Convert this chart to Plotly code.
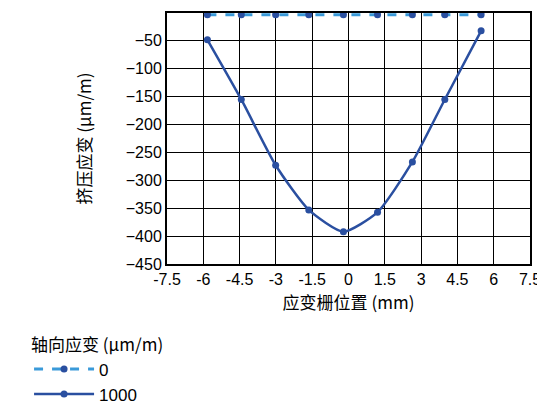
import plotly.graph_objects as go

# strain gauge position (mm) and compressive strain (µm/m)
pos_0 = [-5.83, -4.43, -3.01, -1.64, -0.21, 1.20, 2.64, 3.98, 5.48]
strain_0 = [-3, -3, -3, -3, -3, -3, -3, -3, -3]
pos_1000 = [-5.83, -4.43, -3.01, -1.64, -0.21, 1.20, 2.64, 3.98, 5.48]
strain_1000 = [-48, -155, -273, -353, -392, -357, -267, -155, -32]

DARK = '#2a4fa0'
LIGHT = '#3a9ad9'

fig = go.Figure()
fig.add_trace(go.Scatter(
    x=pos_0, y=strain_0, mode='lines+markers', name='0',
    line=dict(color=LIGHT, width=3, dash='dash'),
    marker=dict(color=DARK, size=7)
))
fig.add_trace(go.Scatter(
    x=pos_1000, y=strain_1000, mode='lines+markers', name='1000',
    line=dict(color=DARK, width=2.5, shape='spline', smoothing=0.6),
    marker=dict(color=DARK, size=7)
))

axis_style = dict(showgrid=True, gridcolor='black', gridwidth=1,
                  showline=True, linecolor='black', linewidth=2, mirror=True,
                  zeroline=False, ticks='', automargin=False,
                  tickfont=dict(size=16, color='black'))

fig.update_layout(
    width=545, height=413,
    font=dict(family='Liberation Sans, Arial', color='black'),
    plot_bgcolor='white', paper_bgcolor='white',
    margin=dict(l=159, r=23, t=5, b=157),
    xaxis=dict(range=[-7.5, 7.5], tickvals=[-7.5, -6, -4.5, -3, -1.5, 0, 1.5, 3, 4.5, 6, 7.5],
               ticktext=['-7.5', '-6', '-4.5', '-3', '-1.5', '0', '1.5', '3', '4.5', '6', '7.5'],
               title=dict(text='应变栅位置 (mm)', font=dict(size=17, family='Noto Sans CJK SC'), standoff=10),
               **axis_style),
    yaxis=dict(range=[-450, 0], dtick=50,
               title=dict(text='挤压应变 (µm/m)', font=dict(size=17, family='Noto Sans CJK SC'), standoff=30),
               **axis_style),
    legend=dict(x=-0.38, xanchor='left', y=-0.26, yanchor='top',
                title=dict(text='轴向应变 (µm/m)', font=dict(size=17, family='Noto Sans CJK SC'), side='top'),
                font=dict(size=17), tracegroupgap=14, itemwidth=60),
)

fig.write_html("out.html")
